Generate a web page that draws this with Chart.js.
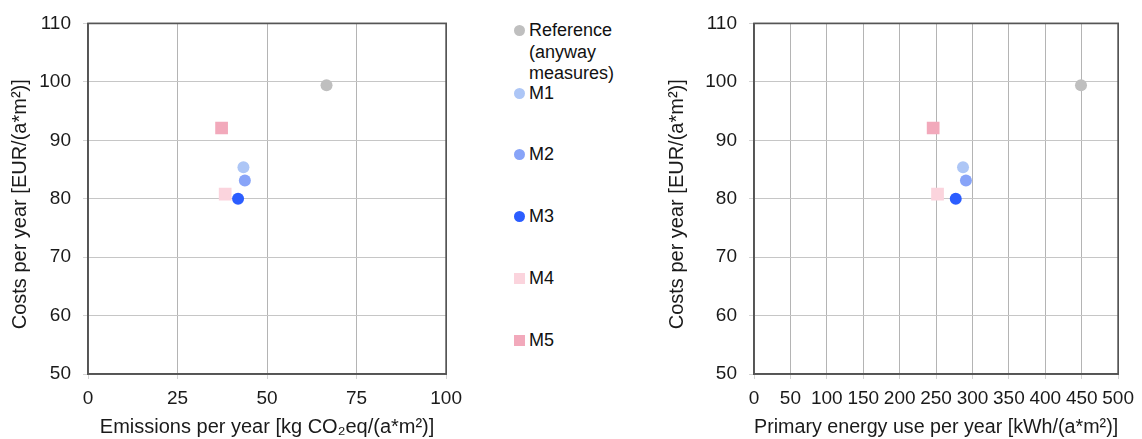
<!DOCTYPE html>
<html>
<head>
<meta charset="utf-8">
<script src="https://cdn.jsdelivr.net/npm/chart.js@4.4.0/dist/chart.umd.min.js"></script>
<style>
    body { margin: 0; background: #fff; font-family: 'Liberation Sans', Arial, sans-serif; }
    #wrap { position: relative; width: 1142px; height: 439px; overflow: hidden; }
    #chartLeft { position: absolute; left: 0; top: 0; }
    #chartRight { position: absolute; left: 660px; top: 0; }
    .lg-item { position: absolute; left: 510px; font-size: 18px; line-height: 21.6px; color: #111; }
    .lg-mark { position: absolute; width: 11px; height: 11px; left: 4px; top: 5px; }
    .lg-text { position: absolute; left: 19px; top: 0; white-space: pre; }
</style>
</head>
<body>
<div id="wrap">
    <canvas id="chartLeft" width="470" height="439"></canvas>
    <div id="legend"></div>
    <canvas id="chartRight" width="482" height="439"></canvas>
</div>
<script>
// series
var seriesNames = ['Reference\n(anyway\nmeasures)', 'M1', 'M2', 'M3', 'M4', 'M5'];
var emissions = [66.6, 43.4, 43.8, 41.9, 38.3, 37.3];       // kg CO2eq/(a*m2)
var primaryEnergy = [449, 287, 291, 277, 252, 246];         // kWh/(a*m2)
var costs = [99.4, 85.4, 83.1, 80.0, 80.8, 92.1];           // EUR/(a*m2)
var markerShapes = ['circle', 'circle', 'circle', 'circle', 'rect', 'rect'];
var markerColors = ['#bfbfbf', '#adc6f6', '#88a4f8', '#2b5dff', '#fbd4dd', '#f2a9bb'];

// tick labels
var costTicks = [50, 60, 70, 80, 90, 100, 110];
var emissionTicks = [0, 25, 50, 75, 100];
var energyTicks = [0, 50, 100, 150, 200, 250, 300, 350, 400, 450, 500];

var FONT = 'Liberation Sans';
var legendTops = [20, 82.5, 144, 206, 268, 330];
// trailing spaces push the rotated title a bit lower, like in the original
var costTitle = 'Costs per year [EUR/(a*m²)]  ';

// box round the plot area
const boxPlugin = {
    id: 'box',
    afterDraw(chart) {
        const a = chart.chartArea
        const ctx = chart.ctx
        ctx.save()
        ctx.strokeStyle = '#555'
        ctx.lineWidth = 1.7
        ctx.strokeRect(a.left, a.top, a.right - a.left, a.bottom - a.top)
        ctx.restore()
    }
}

function makeDatasets(xValues) {
    return seriesNames.map((name, i) => ({
        label: name,
        data: [{ x: xValues[i], y: costs[i] }],
        pointStyle: markerShapes[i],
        pointRadius: markerShapes[i] === 'rect' ? 9 : 6,
        pointBackgroundColor: markerColors[i],
        pointBorderColor: markerColors[i],
        pointBorderWidth: 0
    }))
}

function createChart(canvasId, xValues, xTicks, xTitle, yWidth, padRight, yTitlePad, xTitlePad) {
    var ctx = document.getElementById(canvasId).getContext('2d');
    return new Chart(ctx, {
        type: 'scatter',
        data: { datasets: makeDatasets(xValues) },
        options: {
            responsive: false,
            animation: false,
            layout: { padding: { top: 21, right: padRight, left: 0, bottom: 0 } },
            plugins: { legend: { display: false }, tooltip: { enabled: false } },
            scales: {
                x: {
                    type: 'linear',
                    min: xTicks[0],
                    max: xTicks[xTicks.length - 1],
                    afterBuildTicks: s => { s.ticks = xTicks.map(v => ({ value: v })) },
                    afterFit: s => { s.height = 65 },
                    grid: { color: '#b4b4b4', tickColor: '#d4d4d4', tickLength: 5 },
                    border: { color: '#555', width: 1.7 },
                    ticks: { color: '#1a1a1a', font: { family: FONT, size: 19 }, padding: 8, maxRotation: 0, autoSkip: false },
                    title: { display: true, text: xTitle, color: '#1a1a1a', font: { family: FONT, size: 20 }, padding: { top: xTitlePad, bottom: 0 } }
                },
                y: {
                    type: 'linear',
                    min: costTicks[0],
                    max: costTicks[costTicks.length - 1],
                    afterBuildTicks: s => { s.ticks = costTicks.map(v => ({ value: v })) },
                    afterFit: s => { s.width = yWidth },
                    grid: { color: '#c6c6c6', tickColor: '#d4d4d4', tickLength: 5 },
                    border: { color: '#555', width: 1.7 },
                    ticks: { color: '#1a1a1a', font: { family: FONT, size: 19 }, padding: 12 },
                    title: { display: true, text: costTitle, color: '#1a1a1a', font: { family: FONT, size: 20 }, padding: { top: yTitlePad, bottom: 0 } }
                }
            }
        },
        plugins: [boxPlugin]
    });
}

function buildLegend() {
    var box = document.getElementById('legend')
    seriesNames.forEach((name, i) => {
        var item = document.createElement('div')
        item.className = 'lg-item'
        item.style.top = legendTops[i] + 'px'
        var mark = document.createElement('div')
        mark.className = 'lg-mark'
        mark.style.background = markerColors[i]
        if (markerShapes[i] === 'circle') mark.style.borderRadius = '50%'
        var text = document.createElement('div')
        text.className = 'lg-text'
        text.textContent = name
        item.appendChild(mark)
        item.appendChild(text)
        box.appendChild(item)
    })
}

createChart('chartLeft', emissions, emissionTicks, 'Emissions per year [kg CO₂eq/(a*m²)]', 88, 21, 8, 2)
createChart('chartRight', primaryEnergy, energyTicks, 'Primary energy use per year [kWh/(a*m²)]', 94, 23, 5, 0)
buildLegend()
</script>
</body>
</html>
